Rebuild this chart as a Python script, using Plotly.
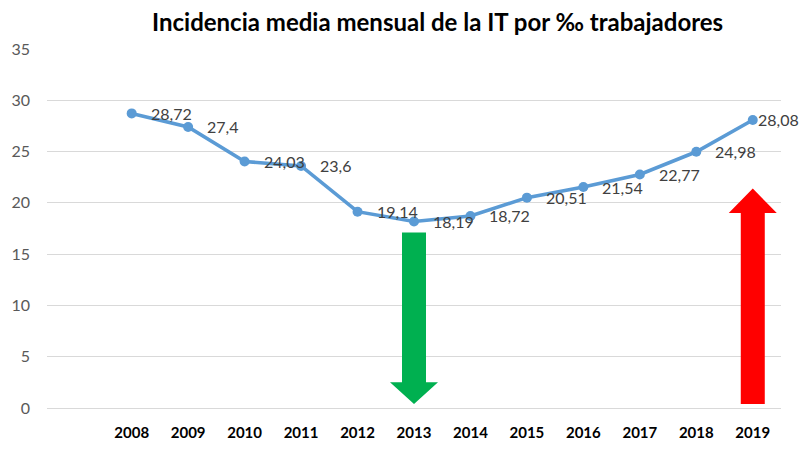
"""Incidencia media mensual de la IT por mil trabajadores, 2008-2019."""
import plotly.graph_objects as go

YEARS = [2008, 2009, 2010, 2011, 2012, 2013, 2014, 2015, 2016, 2017, 2018, 2019]
INCIDENCE = [28.72, 27.4, 24.03, 23.6, 19.14, 18.19, 18.72, 20.51, 21.54, 22.77, 24.98, 28.08]
Y_TICKS = [0, 5, 10, 15, 20, 25, 30, 35]

# block arrows: (anchor year, tail value, head base value, tip value, colour)
ARROWS = [
    (2013, 17.1, 2.5, 0.4, "#00b050"),
    (2019, 0.4, 19.0, 21.4, "#ff0000"),
]

LINE = "#5b9bd5"
FONT = "Lato, sans-serif"


def arrow_path(tail, base, tip, shaft=12, head=24):
    return (f"M{-shaft},{tail} L{shaft},{tail} L{shaft},{base} L{head},{base} "
            f"L0,{tip} L{-head},{base} L{-shaft},{base} Z")


labels = [f"{v:g}".replace(".", ",") for v in INCIDENCE]

fig = go.Figure()
fig.add_trace(go.Scatter(
    x=YEARS, y=INCIDENCE, mode="lines+markers",
    line=dict(color=LINE, width=3.6), marker=dict(color=LINE, size=10),
    cliponaxis=False, showlegend=False,
))

# data labels sit to the right of each point; the last one is pulled in so it fits
for i, (year, val, lab) in enumerate(zip(YEARS, INCIDENCE, labels)):
    last = i == len(YEARS) - 1
    fig.add_annotation(x=year, y=val, text=lab, showarrow=False, xanchor="left",
                       yanchor="middle", xshift=3 if last else 17,
                       font=dict(family=FONT, size=16, color="#404040"))

for year, tail, base, tip, color in ARROWS:
    fig.add_shape(type="path", xref="x", yref="y", xsizemode="pixel", xanchor=year,
                  path=arrow_path(tail, base, tip), fillcolor=color,
                  line=dict(width=0), layer="above")

# page body adds an 8px offset, so the figure is 8px smaller than the window
fig.update_layout(
    width=800, height=456,
    margin=dict(l=39, r=27, t=41, b=56),
    paper_bgcolor="white", plot_bgcolor="white",
    title=dict(text="<b>Incidencia media mensual de la IT por ‰ trabajadores</b>",
               x=0.537, xanchor="center", y=1, yref="container", yanchor="top",
               pad=dict(t=6), automargin=False,
               font=dict(family=FONT, size=24, color="#000000")),
    xaxis=dict(range=[2006.5, 2019.5], tickvals=YEARS, ticktext=[str(y) for y in YEARS],
               showgrid=False, zeroline=False, showline=False, ticks="",
               ticklabelstandoff=14, automargin=False,
               tickfont=dict(family=FONT, size=15, color="#000000", weight="bold")),
    yaxis=dict(range=[0, 35], tickvals=Y_TICKS, showgrid=True, gridcolor="#d9d9d9",
               gridwidth=1.3, zeroline=True, zerolinecolor="#d9d9d9", zerolinewidth=1.3,
               showline=False, ticks="", ticklabelstandoff=16, automargin=False,
               tickfont=dict(family=FONT, size=16, color="#595959")),
)

fig.write_html("out.html")
